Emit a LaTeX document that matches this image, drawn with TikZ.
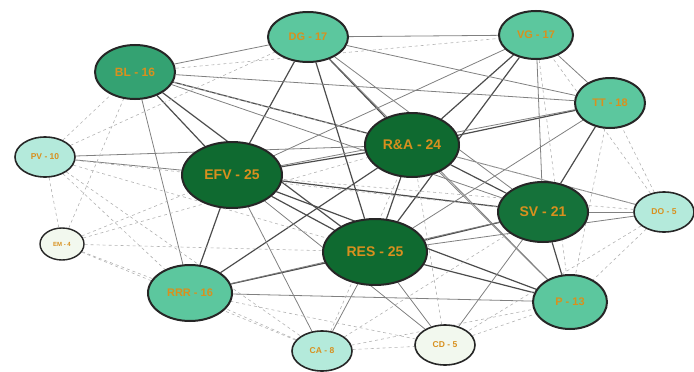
\documentclass[tikz,border=0pt]{standalone}
\usepackage{fontspec}
\setmainfont{Liberation Sans}
\usetikzlibrary{shapes.geometric,backgrounds}
\definecolor{dkg}{HTML}{0F6A30}
\definecolor{mdg}{HTML}{34A272}
\definecolor{ltg}{HTML}{5CC79E}
\definecolor{pale}{HTML}{B4EADB}
\definecolor{vpale}{HTML}{F2F8EE}
\definecolor{txt}{HTML}{D8901E}
\tikzset{
  nd/.style={ellipse,draw=black!85,line width=2pt,inner sep=0pt,text=txt,font=\bfseries},
  big/.style={nd,fill=dkg,font=\bfseries\fontsize{14}{14}\selectfont},
  mid/.style={nd,fill=mdg,font=\bfseries\fontsize{12}{12}\selectfont},
  lit/.style={nd,fill=ltg,font=\bfseries\fontsize{11}{11}\selectfont},
  pal/.style={nd,fill=pale,line width=1.6pt,font=\bfseries\fontsize{8.5}{8.5}\selectfont},
  vpl/.style={nd,fill=vpale,line width=1.4pt,font=\bfseries\fontsize{6}{6}\selectfont},
  se/.style={draw=black!70,line width=1.2pt},
  me/.style={draw=black!50,line width=0.8pt},
  we/.style={draw=black!30,line width=0.6pt,dashed},
}
\begin{document}
\begin{tikzpicture}[x=1pt,y=-1pt]
\useasboundingbox (0,0) rectangle (694,372);
\node[mid,minimum width=80pt,minimum height=54pt] (BL) at (135,72) {BL - 16};
\node[lit,minimum width=80pt,minimum height=50pt] (DG) at (308,37) {DG - 17};
\node[lit,minimum width=74pt,minimum height=48pt] (VG) at (536,35) {VG - 17};
\node[lit,minimum width=70pt,minimum height=50pt] (TR) at (610,103) {TT - 18};
\node[pal,minimum width=60pt,minimum height=40pt] (PV) at (45,157) {PV - 10};
\node[vpl,minimum width=44pt,minimum height=32pt] (EM) at (62,244) {EM - 4};
\node[lit,minimum width=84pt,minimum height=56pt] (RRR) at (190,293) {RRR - 16};
\node[pal,minimum width=60pt,minimum height=40pt] (CA) at (322,351) {CA - 8};
\node[pal,minimum width=60pt,minimum height=40pt,fill=vpale] (CD) at (445,345) {CD - 5};
\node[lit,minimum width=74pt,minimum height=54pt] (P) at (570,302) {P - 13};
\node[pal,minimum width=60pt,minimum height=40pt] (DO) at (664,212) {DO - 5};
\node[big,minimum width=90pt,minimum height=60pt,fill=dkg!85!mdg] (SV) at (543,212) {SV - 21};
\node[big,minimum width=94pt,minimum height=64pt] (RA) at (412,145) {R\&A - 24};
\node[big,minimum width=100pt,minimum height=66pt] (EFV) at (232,175) {EFV - 25};
\node[big,minimum width=104pt,minimum height=66pt] (RES) at (375,252) {RES - 25};
\begin{scope}[on background layer]
\foreach \a/\b in {EFV/RA,EFV/RES,RA/RES,EFV/SV,RES/SV,RA/SV,BL/EFV,BL/RA,DG/EFV,DG/RA,DG/RES,RRR/EFV,RRR/RES,RRR/RA,P/RES,P/SV,VG/RA,TR/RA,TR/SV,EFV/P,BL/RES,VG/RES}
  \draw[se] (\a) -- (\b);
\foreach \a/\b in {BL/DG,DG/VG,VG/TR,PV/EFV,PV/RA,CA/EFV,CA/RES,CD/RES,CD/EFV,DO/SV,DO/RES,DO/RA,VG/SV,TR/EFV,RRR/P,RRR/SV,CD/SV,P/RA,VG/EFV,BL/SV,BL/TR,DG/SV,DG/TR,BL/RRR,TR/RES,DG/P}
  \draw[me] (\a) -- (\b);
\foreach \a/\b in {EM/EFV,EM/RES,EM/RA,EM/BL,EM/RRR,EM/PV,PV/BL,PV/RRR,PV/DG,PV/RES,CA/RRR,CA/CD,CD/P,DO/P,DO/TR,DO/VG,PV/CA,CA/SV,CA/P,VG/P,CA/RA,CD/RA,DO/EFV,DO/CD,TR/P,EM/CA,BL/VG,PV/SV,DO/BL,CD/RRR}
  \draw[we] (\a) -- (\b);
\end{scope}
\end{tikzpicture}
\end{document}
